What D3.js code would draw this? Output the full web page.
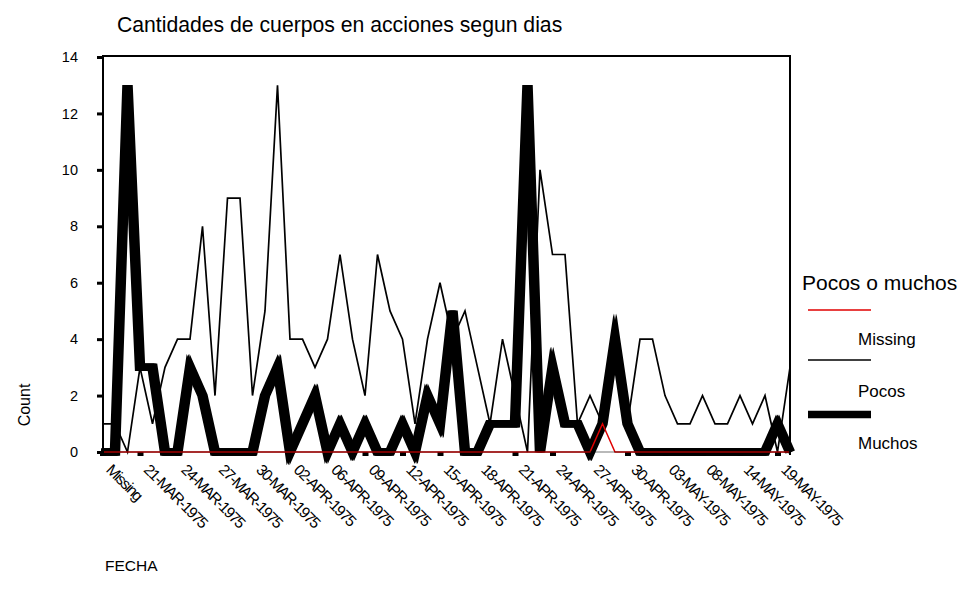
<!DOCTYPE html>
<html><head><meta charset="utf-8">
<script src="https://cdn.jsdelivr.net/npm/d3@7/dist/d3.min.js"></script>
<style>body{margin:0;background:#fff} svg{display:block} text{font-family:"Liberation Sans", Arial, sans-serif; fill:#000}</style>
</head><body><svg id="c" width="961" height="596"></svg>
<script>
const categories = ["Missing","19-MAR-1975","20-MAR-1975","21-MAR-1975","22-MAR-1975","23-MAR-1975","24-MAR-1975","25-MAR-1975","26-MAR-1975","27-MAR-1975","28-MAR-1975","29-MAR-1975","30-MAR-1975","31-MAR-1975","01-APR-1975","02-APR-1975","04-APR-1975","05-APR-1975","06-APR-1975","07-APR-1975","08-APR-1975","09-APR-1975","10-APR-1975","11-APR-1975","12-APR-1975","13-APR-1975","14-APR-1975","15-APR-1975","16-APR-1975","17-APR-1975","18-APR-1975","19-APR-1975","20-APR-1975","21-APR-1975","22-APR-1975","23-APR-1975","24-APR-1975","25-APR-1975","26-APR-1975","27-APR-1975","28-APR-1975","29-APR-1975","30-APR-1975","01-MAY-1975","02-MAY-1975","03-MAY-1975","05-MAY-1975","06-MAY-1975","08-MAY-1975","10-MAY-1975","12-MAY-1975","14-MAY-1975","16-MAY-1975","17-MAY-1975","19-MAY-1975","21-MAY-1975"];
const missingValues = [0,0,0,0,0,0,0,0,0,0,0,0,0,0,0,0,0,0,0,0,0,0,0,0,0,0,0,0,0,0,0,0,0,0,0,0,0,0,0,0,1,0,0,0,0,0,0,0,0,0,0,0,0,0,0,0];
const pocosValues   = [1,1,0,3,1,3,4,4,8,2,9,9,2,5,13,4,4,3,4,7,4,2,7,5,4,1,4,6,4,5,3,1,4,2,0,10,7,7,1,2,1,4,1,4,4,2,1,1,2,1,1,2,1,2,0,3];
const muchosValues  = [0,0,13,3,3,0,0,3,2,0,0,0,0,2,3,0,1,2,0,1,0,1,0,0,1,0,2,1,5,0,0,1,1,1,13,0,3,1,1,0,1,4,1,0,0,0,0,0,0,0,0,0,0,0,1,0];
const yTicks = [0,2,4,6,8,10,12,14];
const seriesNames = ["Missing","Pocos","Muchos"];
const titleText = "Cantidades de cuerpos en acciones segun dias";
const legendTitle = "Pocos o muchos";

const svg = d3.select("#c");
const x = d3.scalePoint().domain(categories).range([102.5, 790]);
const y = d3.scaleLinear().domain([0, 14]).range([452, 57]);

const line = d3.line().x((d, i) => x(categories[i])).y(d => y(d));

// title
svg.append("text").attr("x", 117).attr("y", 32).attr("font-size", 21.2).text(titleText);

// y axis
const yAxis = svg.append("g").attr("transform", "translate(103,0)")
  .call(d3.axisLeft(y).tickValues(yTicks).tickSize(6).tickPadding(19).tickFormat(d3.format("d")));
yAxis.select(".domain").remove();
yAxis.selectAll(".tick line").attr("stroke", "#000").attr("stroke-width", 3);
yAxis.selectAll(".tick text").attr("font-size", 14.5).attr("font-family", "Liberation Sans, Arial, sans-serif").attr("fill", "#000");

// x axis
const xAxis = svg.append("g").attr("transform", "translate(0,452)")
  .call(d3.axisBottom(x).tickValues(categories.filter((d, i) => i % 3 === 0)).tickSize(4).tickFormat(""));
xAxis.select(".domain").remove();
xAxis.selectAll(".tick line").attr("stroke", "#000").attr("stroke-width", 6);
xAxis.selectAll(".tick").append("text")
  .attr("transform", "translate(10,11) rotate(45)")
  .attr("text-anchor", "start").attr("font-size", 15.5).attr("letter-spacing", -1.3)
  .attr("dy", "0.7em")
  .text(d => d);

// series
const plot = svg.append("g");
[-1.5, 0, 1.5].forEach(dx => {
  plot.append("path").datum(muchosValues).attr("transform", `translate(${dx},0)`)
    .attr("d", line).attr("fill", "none").attr("stroke", "#000").attr("stroke-width", 7.5)
    .attr("stroke-linejoin", "miter").attr("stroke-miterlimit", 8);
});
plot.append("path").datum(pocosValues).attr("d", line).attr("fill", "none")
  .attr("stroke", "#000").attr("stroke-width", 1.7).attr("stroke-linejoin", "miter");
plot.append("path").datum(missingValues).attr("d", line).attr("fill", "none")
  .attr("stroke", "#e00000").attr("stroke-width", 1.5);

// frame
const frame = svg.append("g").attr("fill", "none").attr("stroke", "#000").attr("stroke-width", 2);
frame.append("line").attr("x1", 103).attr("x2", 103).attr("y1", 55).attr("y2", 453);
frame.append("line").attr("x1", 102).attr("x2", 791).attr("y1", 56).attr("y2", 56);
frame.append("line").attr("x1", 790).attr("x2", 790).attr("y1", 55).attr("y2", 455);
frame.append("line").attr("x1", 100).attr("x2", 791).attr("y1", 452).attr("y2", 452)
  .attr("stroke-width", 1.2).attr("stroke-opacity", 0.55);

// axis titles
svg.append("text").attr("transform", "translate(30,405) rotate(-90)").attr("text-anchor", "middle")
  .attr("font-size", 16).text("Count");
svg.append("text").attr("x", 105).attr("y", 571).attr("font-size", 15.5).text("FECHA");

// legend
const lg = svg.append("g");
lg.append("text").attr("x", 802).attr("y", 290).attr("font-size", 21).text(legendTitle);
const sw = [{c:"#e00000", w:1.5, y:310}, {c:"#000", w:1.6, y:360}, {c:"#000", w:7.5, y:414.5}];
seriesNames.forEach((n, i) => {
  lg.append("line").attr("x1", 808).attr("x2", 871).attr("y1", sw[i].y).attr("y2", sw[i].y)
    .attr("stroke", sw[i].c).attr("stroke-width", sw[i].w);
  lg.append("text").attr("x", 858).attr("y", [345, 397, 449][i]).attr("font-size", 17).text(n);
});
</script></body></html>
